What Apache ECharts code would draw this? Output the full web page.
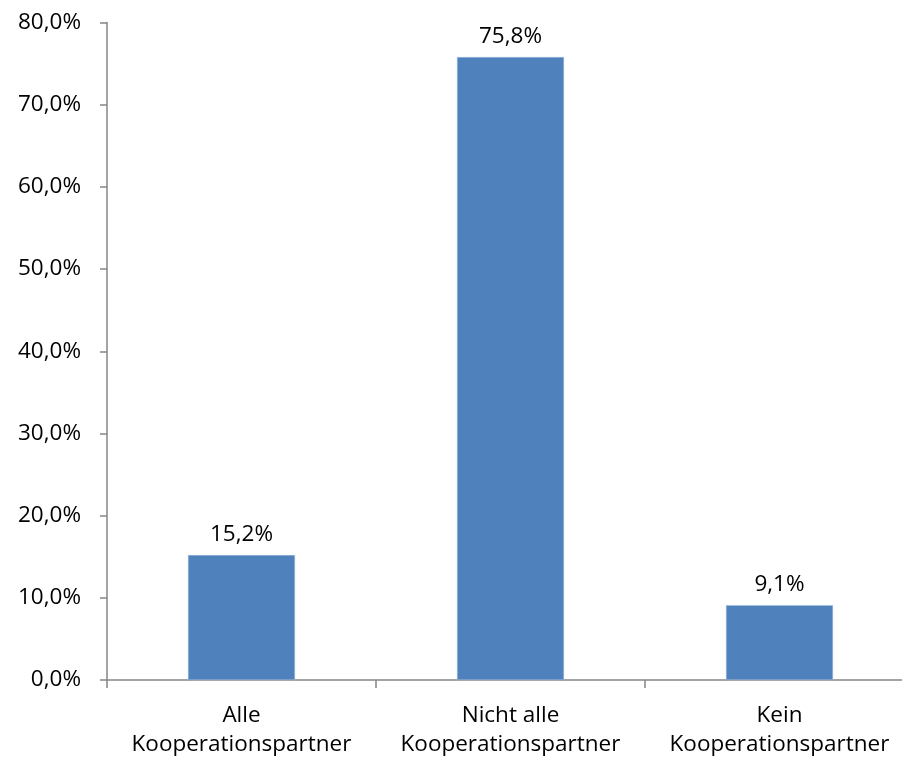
<!DOCTYPE html>
<html>
<head>
<meta charset="utf-8">
<script src="https://cdn.jsdelivr.net/npm/echarts@6/dist/echarts.min.js"></script>
<style>html,body{margin:0;padding:0;background:#fff}#c{width:902px;height:761px}</style>
</head>
<body>
<div id="c"></div>
<script>
const categories = ["Alle\nKooperationspartner", "Nicht alle\nKooperationspartner", "Kein\nKooperationspartner"];
const values = [15.2, 75.8, 9.1];
const yTicks = [0, 10, 20, 30, 40, 50, 60, 70, 80];

const fmt = v => v.toFixed(1).replace('.', ',') + '%';
const font = "'Open Sans', 'Liberation Sans', sans-serif";
const chart = echarts.init(document.getElementById('c'), null, {renderer: 'canvas'});
chart.setOption({
  animation: false,
  grid: {left: 107, width: 807, top: 22.5, bottom: 81, containLabel: false, outerBoundsMode: 'none'},
  xAxis: {
    type: 'category',
    data: categories,
    axisLine: {lineStyle: {color: '#868686', width: 1.5}},
    axisTick: {show: true, length: 8, lineStyle: {color: '#868686', width: 1.5}},
    axisLabel: {color: '#000', fontSize: 22.5, fontFamily: font, margin: 21, lineHeight: 29, interval: 0}
  },
  yAxis: {
    type: 'value',
    min: yTicks[0], max: yTicks[yTicks.length - 1], interval: 10,
    axisLine: {show: true, lineStyle: {color: '#868686', width: 1.5}},
    axisTick: {show: true, length: 7, lineStyle: {color: '#868686', width: 1.5}},
    splitLine: {show: false},
    axisLabel: {color: '#000', fontSize: 22.5, fontFamily: font, margin: 26, formatter: v => fmt(v)}
  },
  series: [{
    type: 'bar',
    data: values,
    barWidth: 107,
    itemStyle: {color: '#4F81BD', borderColor: '#A7BFDE', borderWidth: 0.5},
    label: {show: true, position: 'top', distance: 9, color: '#000', fontSize: 22.5, fontFamily: font, formatter: p => fmt(p.value)}
  }]
});
</script>
</body>
</html>
